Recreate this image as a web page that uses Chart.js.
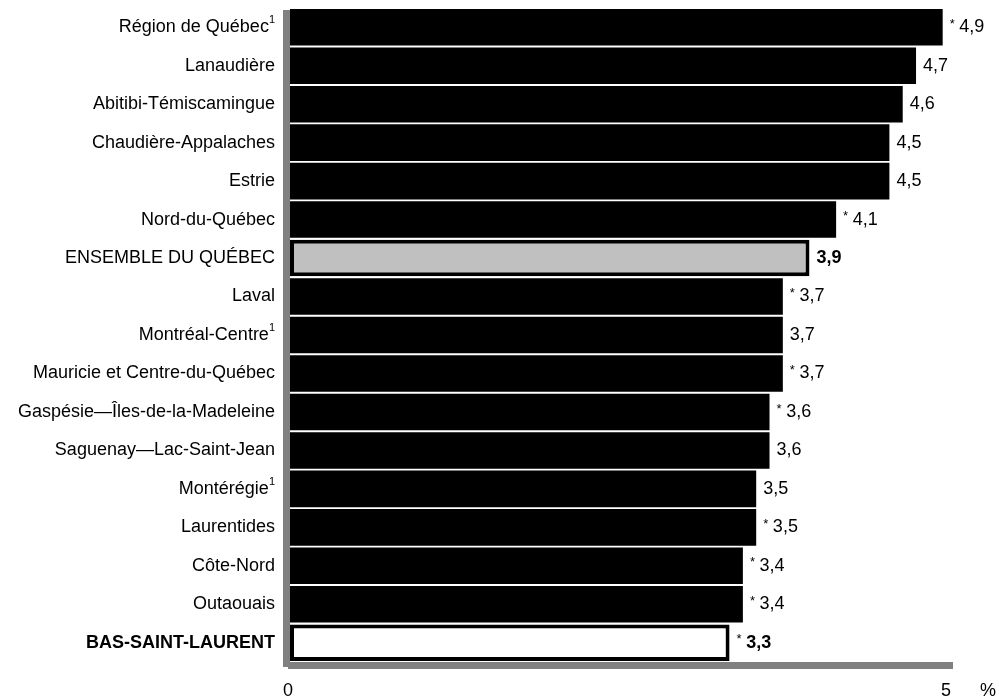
<!DOCTYPE html>
<html>
<head>
<meta charset="utf-8">
<script src="https://cdn.jsdelivr.net/npm/chart.js@4"></script>
<style>
  body { margin: 0; background: #fff; }
  #wrap { width: 999px; height: 700px; }
</style>
</head>
<body>
<div id="wrap"><canvas id="regionsChart" width="999" height="700"></canvas></div>
<script>
const regions = [
    'Région de Québec', 'Lanaudière', 'Abitibi-Témiscamingue', 'Chaudière-Appalaches',
    'Estrie', 'Nord-du-Québec', 'ENSEMBLE DU QUÉBEC', 'Laval', 'Montréal-Centre',
    'Mauricie et Centre-du-Québec', 'Gaspésie—Îles-de-la-Madeleine', 'Saguenay—Lac-Saint-Jean',
    'Montérégie', 'Laurentides', 'Côte-Nord', 'Outaouais', 'BAS-SAINT-LAURENT'
];
const rates = [4.9, 4.7, 4.6, 4.5, 4.5, 4.1, 3.9, 3.7, 3.7, 3.7, 3.6, 3.6, 3.5, 3.5, 3.4, 3.4, 3.3];
// * = estimate to be interpreted with caution
const flagged = [true, false, false, false, false, true, false, true, false, true, true, false, false, true, true, true, true];
// superscript note 1
const noted = [true, false, false, false, false, false, false, false, true, false, false, false, true, false, false, false, false];
const xTicks = [0, 5];

const FONT = 'Arial, "Liberation Sans", sans-serif';

const barColors = regions.map(r => r === 'ENSEMBLE DU QUÉBEC' ? '#c0c0c0' : (r === 'BAS-SAINT-LAURENT' ? '#ffffff' : '#000000'));
const borderWidths = regions.map(r => (r === 'ENSEMBLE DU QUÉBEC' || r === 'BAS-SAINT-LAURENT') ? 4 : 0);
const isBold = r => r === 'ENSEMBLE DU QUÉBEC' || r === 'BAS-SAINT-LAURENT';

const framePlugin = {
    id: 'frame',
    beforeDatasetsDraw(chart) {
        const { ctx, chartArea: a } = chart;
        ctx.save();
        ctx.fillStyle = '#808080';
        // left wall and floor
        ctx.fillRect(a.left - 7, a.top + 2, 7, a.bottom - a.top + 3);
        ctx.fillRect(a.left - 2, a.bottom, a.right - a.left - 1, 7);
        ctx.restore();
    },
    afterDatasetsDraw(chart) {
        const { ctx, chartArea: a } = chart;
        const x = chart.scales.x, y = chart.scales.y;
        ctx.save();
        ctx.fillStyle = '#000';
        ctx.textBaseline = 'middle';
        regions.forEach((name, i) => {
            const yc = y.getPixelForValue(i);
            const bold = name === 'BAS-SAINT-LAURENT';
            // category label
            let right = a.left - 15;
            if (noted[i]) {
                ctx.font = '11px ' + FONT;
                ctx.textAlign = 'right';
                ctx.fillText('1', right, yc - 7);
                right -= ctx.measureText('1').width;
            }
            ctx.font = (bold ? 'bold ' : '') + '18px ' + FONT;
            ctx.textAlign = 'right';
            ctx.fillText(name, right, yc);
            // value label
            let vx = x.getPixelForValue(rates[i]) + 7;
            ctx.textAlign = 'left';
            if (flagged[i]) {
                ctx.font = '13px ' + FONT;
                ctx.fillText('*', vx, yc - 3);
                vx += ctx.measureText('* ').width + 1;
            }
            ctx.font = (isBold(name) ? 'bold ' : '') + '18px ' + FONT;
            ctx.fillText(rates[i].toFixed(1).replace('.', ','), vx, yc);
        });
        // x tick labels
        ctx.font = '18px ' + FONT;
        ctx.textAlign = 'center';
        xTicks.forEach((t, k) => {
            const px = x.getPixelForValue(t) - (k === 0 ? 2 : 10);
            ctx.fillText(String(t), px, a.bottom + 29);
        });
        ctx.fillText('%', 988, a.bottom + 29);
        ctx.restore();
    }
};

new Chart(document.getElementById('regionsChart'), {
    type: 'bar',
    data: {
        labels: regions,
        datasets: [{
            data: rates,
            backgroundColor: barColors,
            borderColor: '#000000',
            borderWidth: borderWidths,
            borderSkipped: false,
            barPercentage: 0.95,
            categoryPercentage: 1
        }]
    },
    options: {
        indexAxis: 'y',
        responsive: false,
        animation: false,
        layout: { padding: { left: 290, right: 43, top: 8, bottom: 38 } },
        plugins: { legend: { display: false }, tooltip: { enabled: false } },
        scales: {
            x: { display: false, min: 0, max: 5 },
            y: { display: false }
        }
    },
    plugins: [framePlugin]
});
</script>
</body>
</html>
